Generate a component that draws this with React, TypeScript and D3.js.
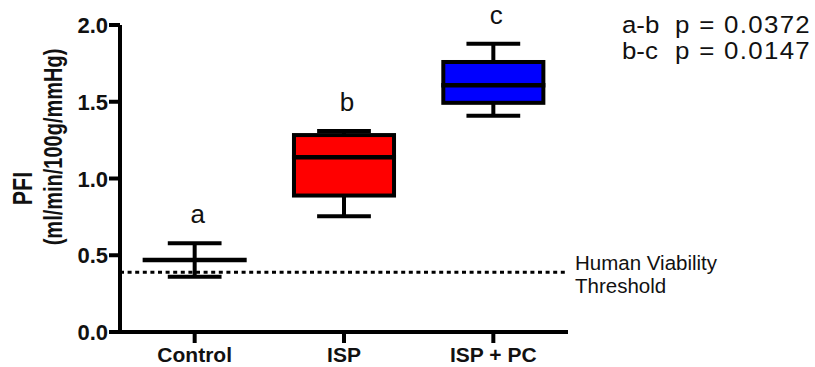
import React from "react";
import * as d3 from "d3";

const categories = ["Control", "ISP", "ISP + PC"];
const whiskerMin = [0.36, 0.754, 1.409];
const q1 = [0.469, 0.889, 1.493];
const median = [0.469, 1.139, 1.607];
const q3 = [0.469, 1.283, 1.759];
const whiskerMax = [0.578, 1.31, 1.878];
const boxColors = ["#ffffff", "#ff0000", "#0000ff"];
const groupLetters = ["a", "b", "c"];
const yTicks = [0, 0.5, 1.0, 1.5, 2.0];
const threshold = 0.39;
const thresholdLines = ["Human Viability", "Threshold"];
const pLabels = ["a-b", "b-c"];
const pValues = ["p = 0.0372", "p = 0.0147"];

const W = 815;
const H = 367;
const FONT = "'Liberation Sans', Arial, Helvetica, sans-serif";

export default function App() {
  const x = d3.scaleBand<string>().domain(categories).range([120, 568]).paddingInner(0).paddingOuter(0);
  const y = d3.scaleLinear().domain([0, 2]).range([332, 25]);
  const bw = x.bandwidth();
  const boxW = bw * 0.67;
  const capW = bw * 0.36;
  const sw = 4;
  const pScale = 1.1;

  return (
    <svg width={W} height={H} style={{ position: "absolute", left: 0, top: 0, display: "block", background: "#fff" }}>
      {/* threshold dotted line */}
      <line x1={x.range()[0]} x2={565} y1={y(threshold)} y2={y(threshold)} stroke="#000" strokeWidth={3} strokeDasharray="4 3.6" />
      <text fontFamily={FONT} fontSize={20.5} fill="#111">
        {thresholdLines.map((t, i) => (
          <tspan key={t} x={575} y={270 + i * 23}>{t}</tspan>
        ))}
      </text>

      {/* boxes */}
      {categories.map((c, i) => {
        const cx = (x(c) as number) + bw / 2;
        return (
          <g key={c}>
            <line x1={cx} x2={cx} y1={y(whiskerMax[i])} y2={y(q3[i])} stroke="#000" strokeWidth={sw} />
            <line x1={cx} x2={cx} y1={y(q1[i])} y2={y(whiskerMin[i])} stroke="#000" strokeWidth={sw} />
            <line x1={cx - capW / 2} x2={cx + capW / 2} y1={y(whiskerMax[i])} y2={y(whiskerMax[i])} stroke="#000" strokeWidth={sw} />
            <line x1={cx - capW / 2} x2={cx + capW / 2} y1={y(whiskerMin[i])} y2={y(whiskerMin[i])} stroke="#000" strokeWidth={sw} />
            {q3[i] > q1[i] ? (
              <rect x={cx - boxW / 2} y={y(q3[i])} width={boxW} height={y(q1[i]) - y(q3[i])} fill={boxColors[i]} stroke="#000" strokeWidth={sw} />
            ) : null}
            <line x1={cx - boxW / 2 - sw / 2} x2={cx + boxW / 2 + sw / 2} y1={y(median[i])} y2={y(median[i])} stroke="#000" strokeWidth={sw + 0.5} />
            <text x={cx + 3} y={y(whiskerMax[i]) - 20} textAnchor="middle" fontFamily={FONT} fontSize={26} fill="#111">{groupLetters[i]}</text>
          </g>
        );
      })}

      {/* axes */}
      <line x1={120} x2={120} y1={y(2)} y2={y(0) + 2} stroke="#000" strokeWidth={sw} />
      <line x1={118} x2={568} y1={y(0)} y2={y(0)} stroke="#000" strokeWidth={sw} />
      {yTicks.map((t) => (
        <g key={t}>
          <line x1={109} x2={120} y1={y(t)} y2={y(t)} stroke="#000" strokeWidth={sw} />
          <text x={108} y={y(t) + 8} textAnchor="end" fontFamily={FONT} fontWeight="bold" fontSize={22} fill="#111">{d3.format(".1f")(t)}</text>
        </g>
      ))}
      {categories.map((c) => {
        const cx = (x(c) as number) + bw / 2;
        return (
          <g key={c}>
            <line x1={cx} x2={cx} y1={y(0)} y2={y(0) + 11} stroke="#000" strokeWidth={sw} />
            <text x={cx} y={362} textAnchor="middle" fontFamily={FONT} fontWeight="bold" fontSize={21} fill="#111">{c}</text>
          </g>
        );
      })}

      {/* y title */}
      <text transform="translate(32,188.5) rotate(-90) scale(1,1.25)" textAnchor="middle" fontFamily={FONT} fontWeight="bold" fontSize={21.5} fill="#111">PFI</text>
      <text transform="translate(62,147) rotate(-90) scale(1,1.25)" textAnchor="middle" fontFamily={FONT} fontWeight="bold" fontSize={20} fill="#111">(ml/min/100g/mmHg)</text>

      {/* p-values */}
      <text transform={`translate(622,0) scale(${pScale},1)`} fontFamily={FONT} fontSize={23.5} fill="#111">
        {pLabels.map((l, i) => (
          <React.Fragment key={l}>
            <tspan x={0} y={33 + i * 26.5}>{l}</tspan>
            <tspan x={(675 - 622) / pScale} y={33 + i * 26.5} style={{ letterSpacing: "1.2px" }}>{pValues[i]}</tspan>
          </React.Fragment>
        ))}
      </text>
    </svg>
  );
}
